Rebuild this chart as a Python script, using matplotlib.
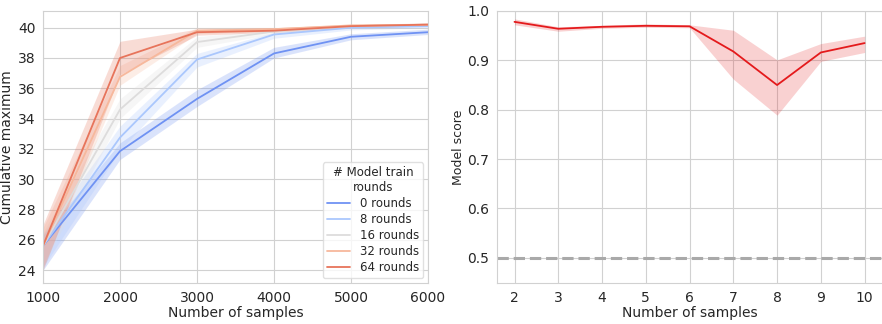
import matplotlib
matplotlib.use('Agg')
import matplotlib.pyplot as plt
import seaborn as sns

samples = [1000, 2000, 3000, 4000, 5000, 6000]
round_labels = ['0 rounds', '8 rounds', '16 rounds', '32 rounds', '64 rounds']
cum_mean = [
    [25.6, 31.85, 35.3, 38.3, 39.4, 39.7],
    [25.6, 32.75, 37.9, 39.55, 40.0, 40.1],
    [25.6, 34.6, 39.05, 39.75, 40.1, 40.2],
    [25.6, 36.75, 39.8, 39.9, 40.15, 40.2],
    [25.6, 38.0, 39.7, 39.8, 40.1, 40.2],
]
cum_low = [
    [24.0, 31.3, 34.8, 38.0, 39.2, 39.55],
    [24.2, 31.9, 37.4, 39.3, 39.85, 40.0],
    [24.3, 34.0, 38.7, 39.6, 40.0, 40.1],
    [24.2, 36.2, 39.6, 39.8, 40.05, 40.1],
    [24.0, 36.9, 39.5, 39.7, 40.0, 40.1],
]
cum_high = [
    [26.3, 32.4, 35.9, 38.7, 39.6, 39.9],
    [26.4, 33.5, 38.3, 39.7, 40.1, 40.2],
    [26.5, 35.3, 39.4, 39.9, 40.2, 40.3],
    [26.8, 37.5, 40.0, 40.0, 40.2, 40.3],
    [27.0, 39.1, 39.9, 40.0, 40.2, 40.3],
]

n_samples = [2, 3, 4, 5, 6, 7, 8, 9, 10]
score_mean = [0.978, 0.964, 0.968, 0.970, 0.969, 0.918, 0.850, 0.916, 0.935]
score_low = [0.972, 0.959, 0.965, 0.967, 0.966, 0.862, 0.789, 0.898, 0.916]
score_high = [0.984, 0.968, 0.971, 0.974, 0.972, 0.961, 0.901, 0.934, 0.949]
chance = 0.5

sns.set_style('whitegrid')
plt.rcParams['font.family'] = ['DejaVu Sans']
plt.rcParams['axes.edgecolor'] = '.82'
plt.rcParams['grid.color'] = '.82'
plt.rcParams['text.color'] = '.15'

fig = plt.figure(figsize=(8.82, 3.24), dpi=100)
ax1 = fig.add_axes([43 / 882, 41 / 324, 385 / 882, 272 / 324])
ax2 = fig.add_axes([497 / 882, 41 / 324, 386 / 882, 272 / 324])

colors = sns.color_palette('coolwarm', 5)
for i, lab in enumerate(round_labels):
    ax1.fill_between(samples, cum_low[i], cum_high[i], color=colors[i], alpha=0.25, lw=0)
    ax1.plot(samples, cum_mean[i], color=colors[i], lw=1.3, label=lab)
ax1.set_xlim(1000, 6000)
ax1.set_ylim(23.15, 41.1)
ax1.set_yticks([24, 26, 28, 30, 32, 34, 36, 38, 40])
ax1.set_xlabel('Number of samples', fontsize=10, labelpad=1)
ax1.set_ylabel('Cumulative maximum', fontsize=10, labelpad=3)
ax1.tick_params(labelsize=10, pad=2)
leg = ax1.legend(title='# Model train\nrounds', loc='lower right', fontsize=8.5,
                 title_fontsize=8.5, frameon=True, framealpha=0.8,
                 labelspacing=0.25, borderaxespad=0.4, borderpad=0.35)
leg.get_frame().set_edgecolor('.85')
leg.get_title().set_multialignment('center')

ax2.fill_between(n_samples, score_low, score_high, color='#e41a1c', alpha=0.2, lw=0)
ax2.plot(n_samples, score_mean, color='#e41a1c', lw=1.3)
ax2.axhline(chance, color='darkgrey', ls='--', lw=2.2)
ax2.set_xlim(1.6, 10.42)
ax2.set_ylim(0.449, 1.0)
ax2.set_xticks(n_samples)
ax2.set_xlabel('Number of samples', fontsize=10, labelpad=1)
ax2.set_ylabel('Model score', fontsize=9, labelpad=2)
ax2.tick_params(labelsize=10, pad=2)

fig.savefig('out.png', dpi=100)
